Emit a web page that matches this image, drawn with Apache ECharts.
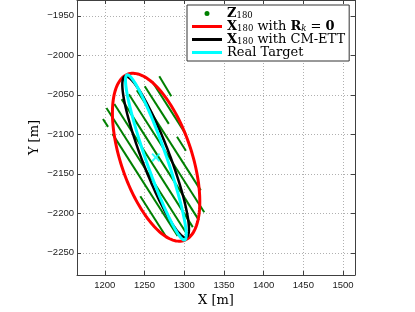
<!DOCTYPE html>
<html><head><meta charset="utf-8">
<script src="https://cdn.jsdelivr.net/npm/echarts@6/dist/echarts.min.js"></script>
<style>html,body{margin:0;padding:0;background:#fff}#c{width:415px;height:312px}</style>
</head><body><div id="c"></div>
<script>
const xTicks = [1200, 1250, 1300, 1350, 1400, 1450, 1500];
const yTicks = [-2250, -2200, -2150, -2100, -2050, -2000, -1950];
// Z_180 measurement strips: [x1, y1, x2, y2]
const zSegments = [
  [1268.6, -2026.6, 1283.7, -2051.7],
  [1259.8, -2033.5, 1301.7, -2099.4],
  [1250.3, -2039.1, 1280.6, -2086.8],
  [1290.9, -2103.1, 1302.1, -2120.7],
  [1240.3, -2044.1, 1320.8, -2170.9],
  [1230.3, -2049.2, 1325.2, -2198.5],
  [1221.2, -2055.4, 1318.4, -2208.6],
  [1212.0, -2061.7, 1310.8, -2217.4],
  [1202.1, -2066.7, 1301.7, -2223.6],
  [1197.7, -2080.5, 1204.1, -2090.6],
  [1209.6, -2099.4, 1291.7, -2228.7],
  [1244.7, -2178.4, 1278.2, -2231.2]
];
// ellipses: [centerX, centerY, varX, varY, covXY]
const ellipseRk0 = [1264.6, -2129.0, 3025, 11289, -3090];
const ellipseCMETT = [1264.0, -2128.5, 1760, 10404, -3835];
const ellipseReal = [1264.3, -2129.2, 1462, 10920, -3731];
const targetCenter = [1264.3, -2129.2];

const legendLabels = {
  'Z180': '{b|Z}{s|180}',
  'Rk0': '{b|X}{s|180}{t| with }{b|R}{k|k}{t| = }{b|0}',
  'CMETT': '{b|X}{s|180}{t| with CM-ETT}',
  'Real Target': '{t|Real Target}'
};

function ellipseSeries(name, params, color, width) {
  return {
    name: name, type: 'custom', coordinateSystem: 'cartesian2d',
    data: [params], encode: { x: 0, y: 1 },
    itemStyle: { color: color },
    renderItem: function (p, api) {
      const cx = api.value(0), cy = api.value(1), sxx = api.value(2), syy = api.value(3), sxy = api.value(4);
      const l11 = Math.sqrt(sxx), l21 = sxy / l11, l22 = Math.sqrt(syy - l21 * l21);
      const pts = [];
      for (let i = 0; i <= 160; i++) {
        const t = i / 160 * 2 * Math.PI;
        pts.push(api.coord([cx + l11 * Math.cos(t), cy + l21 * Math.cos(t) + l22 * Math.sin(t)]));
      }
      return { type: 'polygon', shape: { points: pts }, style: { fill: 'none', stroke: color, lineWidth: width } };
    }
  };
}

const axisColor = '#404040';
const tickFont = { fontFamily: 'Liberation Sans', fontSize: 9.5, color: '#1a1a1a' };
const serif = 'DejaVu Serif';
const gridLine = { show: true, lineStyle: { color: '#b0b0b0', type: [1, 2], width: 1 } };
const fmt = v => String(v).replace('-', '\u2212');

const chart = echarts.init(document.getElementById('c'), null, { renderer: 'canvas' });
chart.setOption({
  animation: false,
  backgroundColor: '#fff',
  grid: { left: 77, top: 0, width: 278, height: 277, containLabel: false },
  xAxis: [
    {
      type: 'value', min: 1165, max: 1515, position: 'bottom',
      axisLine: { show: true, onZero: false, lineStyle: { color: axisColor, width: 1 } },
      axisTick: { show: true, inside: true, length: 4, customValues: xTicks, lineStyle: { color: axisColor } },
      axisLabel: Object.assign({ customValues: xTicks, margin: 5, formatter: fmt }, tickFont),
      splitLine: gridLine,
      name: 'X [m]', nameLocation: 'middle', nameGap: 19, nameMoveOverlap: false,
      nameTextStyle: { fontFamily: serif, fontSize: 13, color: '#000' }
    },
    {
      type: 'value', min: 1165, max: 1515, position: 'top',
      axisLine: { show: true, onZero: false, lineStyle: { color: axisColor, width: 1 } },
      axisTick: { show: true, inside: true, length: 4, customValues: xTicks, lineStyle: { color: axisColor } },
      axisLabel: { show: false, customValues: xTicks },
      splitLine: { show: false }
    }
  ],
  yAxis: [
    {
      type: 'value', min: -2278, max: -1930, position: 'left',
      axisLine: { show: true, onZero: false, lineStyle: { color: axisColor, width: 1 } },
      axisTick: { show: true, inside: true, length: 4, customValues: yTicks, lineStyle: { color: axisColor } },
      axisLabel: Object.assign({ customValues: yTicks, margin: 3, formatter: fmt }, tickFont),
      splitLine: gridLine,
      name: 'Y [m]', nameLocation: 'middle', nameGap: 36, nameRotate: 90, nameMoveOverlap: false,
      nameTextStyle: { fontFamily: serif, fontSize: 13, color: '#000' }
    },
    {
      type: 'value', min: -2278, max: -1930, position: 'right',
      axisLine: { show: true, onZero: false, lineStyle: { color: axisColor, width: 1 } },
      axisTick: { show: true, inside: true, length: 4, customValues: yTicks, lineStyle: { color: axisColor } },
      axisLabel: { show: false, customValues: yTicks },
      splitLine: { show: false }
    }
  ],
  legend: {
    orient: 'vertical', left: 187, top: 5, padding: [2, 4, 2, 5], itemGap: 0,
    itemWidth: 30, itemHeight: 3, selectedMode: false,
    backgroundColor: '#fff', borderColor: '#333', borderWidth: 1, borderRadius: 0,
    data: [
      { name: 'Z180', icon: 'circle', itemStyle: { color: '#008000' } },
      { name: 'Rk0', icon: 'rect', itemStyle: { color: '#ff0000' } },
      { name: 'CMETT', icon: 'rect', itemStyle: { color: '#000000' } },
      { name: 'Real Target', icon: 'rect', itemStyle: { color: '#00ffff' } }
    ],
    formatter: n => legendLabels[n],
    textStyle: {
      fontFamily: serif, fontSize: 13, color: '#000', lineHeight: 12.6,
      rich: {
        b: { fontFamily: serif, fontWeight: 'bold', fontSize: 13, lineHeight: 12.6, color: '#000' },
        t: { fontFamily: serif, fontSize: 13, lineHeight: 12.6, color: '#000' },
        s: { fontFamily: serif, fontSize: 8.5, lineHeight: 7, verticalAlign: 'bottom', color: '#000' },
        k: { fontFamily: serif, fontStyle: 'italic', fontSize: 8.5, lineHeight: 7, verticalAlign: 'bottom', color: '#000' }
      }
    }
  },
  series: [
    {
      name: 'Z180', type: 'lines', coordinateSystem: 'cartesian2d', xAxisIndex: 0, yAxisIndex: 0,
      data: zSegments.map(s => ({ coords: [[s[0], s[1]], [s[2], s[3]]] })),
      lineStyle: { color: '#008000', width: 2, opacity: 1 },
      itemStyle: { color: '#008000' }, z: 2
    },
    Object.assign(ellipseSeries('Rk0', ellipseRk0, '#ff0000', 3), { z: 3 }),
    Object.assign(ellipseSeries('CMETT', ellipseCMETT, '#000000', 2.5), { z: 4 }),
    Object.assign(ellipseSeries('Real Target', ellipseReal, '#00ffff', 3), { z: 5 }),
    {
      name: 'target', type: 'scatter', data: [targetCenter], z: 6,
      symbol: 'path://M0,1.6L1.6,0L5,3.4L8.4,0L10,1.6L6.6,5L10,8.4L8.4,10L5,6.6L1.6,10L0,8.4L3.4,5Z',
      symbolSize: 9, itemStyle: { color: '#00ffff' }
    }
  ]
});
</script>
</body></html>
